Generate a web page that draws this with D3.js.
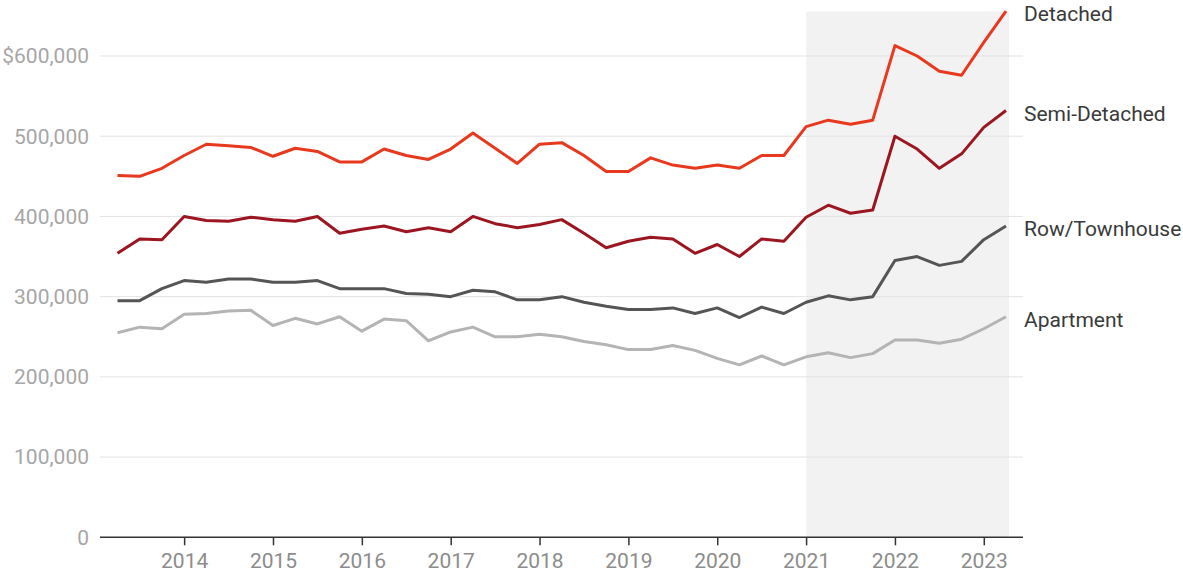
<!DOCTYPE html>
<html>
<head>
<meta charset="utf-8">
<script src="https://cdn.jsdelivr.net/npm/d3@7"></script>
<style>
  html, body { margin: 0; padding: 0; background: #ffffff; }
  svg { display: block; font-family: Roboto, "Noto Sans", sans-serif; }
</style>
</head>
<body>
<svg id="chart" width="1183" height="584"></svg>
<script>
// Quarterly data, 2013 Q2 .. 2023 Q2
const startYear = 2013.25;
const step = 0.25;

const detached = [451000, 450000, 460000, 476000, 490000, 488000, 486000, 475000, 485000, 481000, 468000, 468000, 484000, 476000,
  471000, 484000, 504000, 485000, 466000, 490000, 492000, 476000, 456000, 456000, 473000, 464000, 460000, 464000,
  460000, 476000, 476000, 512000, 520000, 515000, 520000, 613000, 600000, 581000, 576000, 617000, 656000];
const semiDetached = [354000, 372000, 371000, 400000, 395000, 394000, 399000, 396000, 394000, 400000, 379000, 384000, 388000, 381000,
  386000, 381000, 400000, 391000, 386000, 390000, 396000, 379000, 361000, 369000, 374000, 372000, 354000, 365000,
  350000, 372000, 369000, 399000, 414000, 404000, 408000, 500000, 484000, 460000, 478000, 511000, 532000];
const rowTownhouse = [295000, 295000, 310000, 320000, 318000, 322000, 322000, 318000, 318000, 320000, 310000, 310000, 310000, 304000,
  303000, 300000, 308000, 306000, 296000, 296000, 300000, 293000, 288000, 284000, 284000, 286000, 279000, 286000,
  274000, 287000, 279000, 293000, 301000, 296000, 300000, 345000, 350000, 339000, 344000, 371000, 388000];
const apartment = [255000, 262000, 260000, 278000, 279000, 282000, 283000, 264000, 273000, 266000, 275000, 257000, 272000, 270000,
  245000, 256000, 262000, 250000, 250000, 253000, 250000, 244000, 240000, 234000, 234000, 239000, 233000, 223000,
  215000, 226000, 215000, 225000, 230000, 224000, 229000, 246000, 246000, 242000, 247000, 260000, 275000];

const seriesNames = ["Detached", "Semi-Detached", "Row/Townhouse", "Apartment"];
const seriesValues = [detached, semiDetached, rowTownhouse, apartment];
const seriesColors = ["#e8391f", "#9c1622", "#555555", "#b4b4b4"];

const xTickValues = [2014, 2015, 2016, 2017, 2018, 2019, 2020, 2021, 2022, 2023];
const yTickValues = [0, 100000, 200000, 300000, 400000, 500000, 600000];
const yTickLabels = ["0", "100,000", "200,000", "300,000", "400,000", "500,000", "$600,000"];
const shadeStart = 2021;

const svg = d3.select("#chart");
const lastYear = startYear + step * (apartment.length - 1);

const x = d3.scaleLinear().domain([startYear, lastYear]).range([117.5, 1006]);
const y = d3.scaleLinear().domain([0, 600000]).range([537.3, 56]);

const axisLeft = 100, axisRight = 1023;

// shaded region
svg.append("rect")
  .attr("x", x(shadeStart))
  .attr("y", 11.5)
  .attr("width", x(lastYear) + 3 - x(shadeStart))
  .attr("height", y(0) - 11.5)
  .attr("fill", "#f2f2f2");

// gridlines
svg.append("g")
  .selectAll("line")
  .data(yTickValues.filter(d => d > 0))
  .join("line")
  .attr("x1", axisLeft).attr("x2", axisRight)
  .attr("y1", d => y(d)).attr("y2", d => y(d))
  .attr("stroke", "#e3e3e3").attr("stroke-width", 1);

// y labels
svg.append("g")
  .selectAll("text")
  .data(yTickValues)
  .join("text")
  .attr("x", 89)
  .attr("y", d => y(d))
  .attr("dy", "0.35em")
  .attr("text-anchor", "end")
  .attr("font-size", 21)
  .attr("fill", "#a6a6a6")
  .text((d, i) => yTickLabels[i]);

// x axis
const xAxis = d3.axisBottom(x)
  .tickValues(xTickValues)
  .tickFormat(d3.format("d"))
  .tickSize(8)
  .tickPadding(8);
const gx = svg.append("g")
  .attr("transform", `translate(0,${y(0)})`)
  .call(xAxis);
gx.select(".domain").remove();
gx.selectAll(".tick line").attr("stroke", "#333").attr("stroke-width", 1.5);
gx.selectAll(".tick text").attr("font-size", 21).attr("fill", "#8c8c8c")
  .attr("font-family", "Roboto, sans-serif");
svg.append("line")
  .attr("x1", axisLeft).attr("x2", axisRight)
  .attr("y1", y(0)).attr("y2", y(0))
  .attr("stroke", "#333").attr("stroke-width", 1.5);

// lines
const line = d3.line()
  .x((d, i) => x(startYear + step * i))
  .y(d => y(d));

seriesValues.forEach((vals, k) => {
  svg.append("path")
    .datum(vals)
    .attr("fill", "none")
    .attr("stroke", seriesColors[k])
    .attr("stroke-width", 3)
    .attr("stroke-linejoin", "round")
    .attr("d", line);
  const last = vals[vals.length - 1];
  svg.append("text")
    .attr("x", 1024)
    .attr("y", y(last) + 3)
    .attr("dy", "0.35em")
    .attr("font-size", 21)
    .attr("fill", "#3a3a3a")
    .text(seriesNames[k]);
});
</script>
</body>
</html>
